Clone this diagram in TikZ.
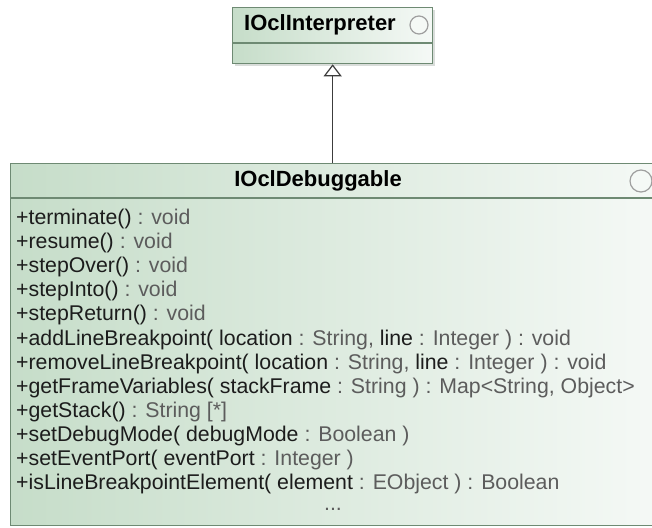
\documentclass[tikz,border=0pt]{standalone}
\usepackage{fontspec}
\setmainfont{Liberation Sans}
\usetikzlibrary{arrows.meta}
\definecolor{umlborder}{HTML}{6E8A73}
\definecolor{umlfill}{HTML}{C6DDC9}
\definecolor{umlpale}{HTML}{F5F9F6}
\definecolor{umlshadow}{HTML}{D9DDDA}
\definecolor{opname}{HTML}{1C1C1C}
\definecolor{optype}{HTML}{5C5C5C}
\definecolor{linkcol}{HTML}{3C3C3C}
\newcommand{\ty}[1]{\textcolor{optype}{#1}}
\begin{document}
\begin{tikzpicture}[x=1pt,y=-1pt,
  classbox/.style={rectangle, draw=umlborder, line width=1.3pt,
    left color=umlfill, right color=umlpale, inner sep=0pt, anchor=north west},
  boxshadow/.style={fill=umlshadow},
  sepline/.style={draw=umlborder, line width=1.3pt},
  title/.style={inner sep=0pt, text=black, font=\fontsize{22}{24}\selectfont\bfseries},
  opline/.style={anchor=base west, inner sep=0pt, text=opname,
    font=\fontsize{21.3}{24}\selectfont},
  icon/.style={circle, draw=gray!75, line width=1.2pt, fill=umlpale, inner sep=0pt},
  realize/.style={draw=linkcol, line width=1.2pt,
    -{Triangle[open, length=12pt, width=18pt, line width=1.2pt]}}]
\useasboundingbox (0,0) rectangle (652,527);
\clip (0,0) rectangle (652,527);
\fill[white] (0,0) rectangle (652,527);

% interface IOclInterpreter, with its soft drop shadow
\fill[boxshadow] (235,10) rectangle (435,66);
\node[classbox, minimum width=200pt, minimum height=56pt] (interp) at (232,7) {};
\draw[sepline] (232,43) -- (432,43);
\node[title] (interpname) at (320,25) {IOclInterpreter};
\node[icon, minimum size=18pt] (interpicon) at (419,25) {};

% interface IOclDebuggable
\node[classbox, minimum width=650pt, minimum height=362pt] (debug) at (10,163) {};
\draw[sepline] (10,198) -- (660,198);
\node[title] (debugname) at (318,181) {IOclDebuggable};
\node[icon, minimum size=22pt] (debugicon) at (641,181) {};

% operations
\node[opline] (r1)  at (16,224.5) {+terminate() \ty{: void}};
\node[opline] (r2)  at (16,248.6) {+resume() \ty{: void}};
\node[opline] (r3)  at (16,272.7) {+stepOver() \ty{: void}};
\node[opline] (r4)  at (16,296.8) {+stepInto() \ty{: void}};
\node[opline] (r5)  at (16,320.9) {+stepReturn() \ty{: void}};
\node[opline] (r6)  at (16,345.0) {+addLineBreakpoint( location \ty{: String,} line \ty{: Integer ) : void}};
\node[opline] (r7)  at (16,369.1) {+removeLineBreakpoint( location \ty{: String,} line \ty{: Integer ) : void}};
\node[opline] (r8)  at (16,393.2) {+getFrameVariables( stackFrame \ty{: String ) : Map<String, Object>}};
\node[opline] (r9)  at (16,417.3) {+getStack() \ty{: String [*]}};
\node[opline] (r10) at (16,441.4) {+setDebugMode( debugMode \ty{: Boolean )}};
\node[opline] (r11) at (16,465.5) {+setEventPort( eventPort \ty{: Integer )}};
\node[opline] (r12) at (16,489.6) {+isLineBreakpointElement( element \ty{: EObject ) : Boolean}};
\node[opline, anchor=base, text=optype] (more) at (333,510) {...};

% realization of IOclInterpreter
\draw[realize] (interp.south |- debug.north) -- (interp.south);
\end{tikzpicture}
\end{document}
